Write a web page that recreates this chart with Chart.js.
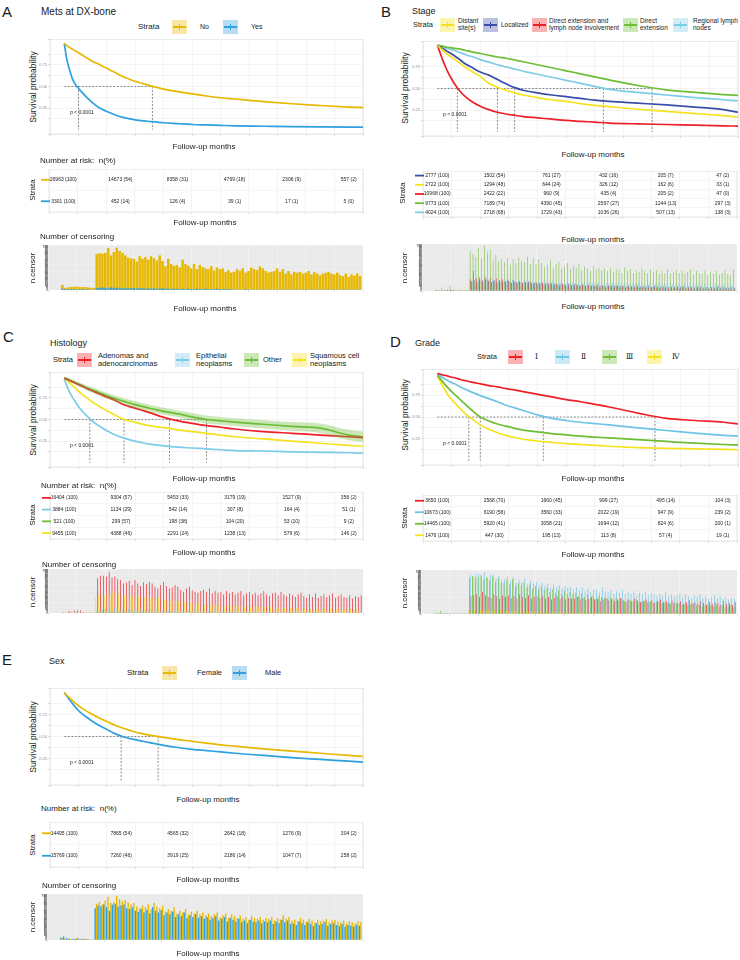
<!DOCTYPE html>
<html>
<head>
<meta charset="utf-8">
<script src="https://cdn.jsdelivr.net/npm/chart.js@4.4.1/dist/chart.umd.min.js"></script>
<style>
  body { margin: 0; background: #fff; }
  #page { position: relative; width: 740px; height: 960px; overflow: hidden;
          font-family: "Liberation Sans", Arial, sans-serif; color: #1a1a1a; }
  .t { position: absolute; white-space: nowrap; line-height: 1.05; }
  .key { position: absolute; width: 15px; height: 14px; }
  .key b { position: absolute; left: 0; top: 0; right: 0; bottom: 0; opacity: .35; }
  .key i { position: absolute; left: 1px; right: 1px; top: 6px; height: 2px; }
  .key u { position: absolute; left: 7px; top: 4px; width: 1px; height: 6px; }
  canvas { position: absolute; }
</style>
</head>
<body>
<div id="page"></div>
<script>
// ---------- shared axes ----------
const survMonths = [0, 1, 2, 3, 4, 5, 6, 8, 10, 12, 15, 18, 21, 24, 27, 30, 35, 40, 45, 50, 55, 60, 70, 80, 90, 100, 105];
const riskMonths = [0, 20, 40, 60, 80, 100];
const censorMonths = Array.from({ length: 105 }, (_, i) => i);
const pText = 'p < 0.0001';

// ---------- A: Mets at DX-bone ----------
const metsStrata = ['No', 'Yes'];
const metsColors = ['#E7B800', '#2E9FDF'];
const metsSurvNo = [1.0, 0.97, 0.95, 0.93, 0.91, 0.89, 0.87, 0.83, 0.79, 0.76, 0.71, 0.66, 0.61, 0.57, 0.54, 0.51, 0.47, 0.44, 0.415, 0.39, 0.37, 0.355, 0.325, 0.30, 0.28, 0.262, 0.255];
const metsSurvYes = [1.0, 0.80, 0.68, 0.58, 0.52, 0.48, 0.44, 0.37, 0.31, 0.26, 0.21, 0.17, 0.14, 0.12, 0.105, 0.095, 0.08, 0.07, 0.06, 0.055, 0.05, 0.045, 0.04, 0.035, 0.032, 0.03, 0.03];
const metsMedians = [31, 5];
const metsRiskNo = ['26963 (100)', '14673 (54)', '8358 (31)', '4769 (18)', '2306 (9)', '557 (2)'];
const metsRiskYes = ['3301 (100)', '452 (14)', '126 (4)', '39 (1)', '17 (1)', '5 (0)'];
const metsCensorNo = [12, 5, 6, 7, 8, 8, 7, 7, 7, 6, 5, 5,
  83, 85, 84, 86, 97, 80, 88, 98, 90, 86, 80, 75,
  73, 72, 66, 78, 72, 76, 70, 78, 74, 68, 80, 67,
  55, 72, 60, 56, 58, 52, 70, 60, 56, 50, 60, 48,
  58, 53, 50, 48, 55, 45, 52, 48, 50, 42, 46, 40,
  42, 48, 45, 50, 40, 44, 52, 48, 46, 54, 50, 44,
  40, 42, 44, 50, 42, 48, 38, 44, 36, 42, 40, 42,
  38, 40, 44, 36, 42, 38, 34, 38, 40, 42, 38, 36,
  40, 34, 32, 38, 30, 36, 33, 38, 32];
const metsCensorYes = [3, 2, 2, 2, 2, 1, 2, 2, 1, 2, 1, 1,
  4, 5, 6, 5, 4, 6, 5, 5, 4, 5, 4, 4,
  4, 5, 3, 4, 4, 3, 4, 3, 4, 3, 3, 4,
  3, 3, 2, 3, 3, 2, 3, 2, 3, 2, 2, 3,
  2, 2, 3, 2, 2, 2, 3, 2, 2, 2, 2, 2,
  1, 1, 1, 1, 2, 1, 1, 1, 1, 1, 1, 1,
  1, 1, 1, 1, 1, 1, 1, 1, 1, 1, 1, 1,
  1, 1, 1, 1, 1, 1, 1, 1, 1, 1, 1, 1,
  1, 1, 1, 1, 1, 1, 1, 1, 1];

// ---------- B: Stage ----------
const stageStrata = ['Distant site(s)', 'Localized', 'Direct extension and lymph node involvement', 'Direct extension', 'Regional lymph nodes'];
const stageColors = ['#F4E31E', '#3A4EA8', '#EE2027', '#6DBE35', '#7DCCE6'];
const stageSurvDistant = [1.0, 0.97, 0.94, 0.91, 0.885, 0.86, 0.84, 0.79, 0.74, 0.70, 0.64, 0.56, 0.515, 0.48, 0.45, 0.425, 0.395, 0.37, 0.35, 0.325, 0.305, 0.29, 0.26, 0.235, 0.21, 0.185, 0.17];
const stageSurvLocal = [1.0, 0.98, 0.96, 0.94, 0.92, 0.90, 0.88, 0.83, 0.78, 0.745, 0.69, 0.655, 0.605, 0.555, 0.51, 0.48, 0.45, 0.425, 0.405, 0.385, 0.365, 0.35, 0.33, 0.31, 0.285, 0.255, 0.225];
const stageSurvDeLn = [1.0, 0.91, 0.82, 0.74, 0.67, 0.61, 0.555, 0.465, 0.40, 0.35, 0.295, 0.255, 0.225, 0.205, 0.19, 0.175, 0.16, 0.145, 0.13, 0.12, 0.11, 0.10, 0.09, 0.083, 0.075, 0.068, 0.065];
const stageSurvDe = [1.0, 0.995, 0.99, 0.98, 0.975, 0.97, 0.965, 0.955, 0.94, 0.925, 0.905, 0.885, 0.865, 0.85, 0.83, 0.81, 0.775, 0.74, 0.705, 0.67, 0.635, 0.60, 0.535, 0.485, 0.455, 0.43, 0.42];
const stageSurvRegional = [1.0, 0.99, 0.98, 0.97, 0.96, 0.95, 0.94, 0.915, 0.89, 0.87, 0.835, 0.805, 0.775, 0.75, 0.725, 0.70, 0.665, 0.63, 0.595, 0.56, 0.525, 0.49, 0.455, 0.425, 0.395, 0.37, 0.355];
const stageMedians = [7, 21, 27, 58, 75];
// table rows as printed: Localized, Distant, DE+LN, DE, Regional
const stageRiskColors = ['#3A4EA8', '#F4E31E', '#EE2027', '#6DBE35', '#7DCCE6'];
const stageRiskLocal = ['2777 (100)', '1502 (54)', '761 (27)', '432 (16)', '205 (7)', '47 (2)'];
const stageRiskDistant = ['2722 (100)', '1294 (48)', '644 (24)', '326 (12)', '162 (6)', '33 (1)'];
const stageRiskDeLn = ['10968 (100)', '2422 (22)', '960 (9)', '435 (4)', '205 (2)', '47 (0)'];
const stageRiskDe = ['9773 (100)', '7189 (74)', '4390 (45)', '2597 (27)', '1244 (13)', '297 (3)'];
const stageRiskRegional = ['4024 (100)', '2718 (68)', '1729 (43)', '1036 (26)', '507 (13)', '138 (3)'];
const stageCensorDe = [3, 2, 8, 2, 4, 12, 4, 3, 3, 2, 2, 2,
  88, 82, 75, 95, 72, 100, 85, 90, 68, 80, 66, 70,
  64, 72, 58, 70, 62, 74, 66, 64, 76, 60, 72, 58,
  70, 62, 54, 58, 68, 52, 60, 64, 50, 56, 62, 48,
  56, 52, 60, 46, 54, 50, 44, 56, 48, 52, 46, 50,
  44, 50, 42, 48, 46, 40, 52, 44, 48, 40, 46, 42,
  50, 44, 40, 48, 42, 46, 38, 44, 40, 48, 38, 42,
  46, 40, 44, 38, 42, 48, 36, 44, 40, 38, 46, 36,
  42, 38, 44, 36, 40, 46, 38, 34, 48];
const stageCensorRegional = [1, 1, 2, 1, 2, 3, 1, 1, 1, 1, 1, 1,
  24, 22, 26, 25, 28, 24, 27, 23, 26, 24, 22, 25,
  23, 26, 22, 25, 21, 24, 22, 23, 20, 24, 21, 22,
  22, 20, 23, 19, 21, 22, 18, 20, 21, 19, 20, 18,
  20, 19, 18, 21, 17, 19, 20, 18, 17, 19, 18, 17,
  18, 17, 19, 16, 18, 17, 16, 18, 15, 17, 16, 18,
  17, 15, 16, 18, 15, 16, 17, 15, 16, 14, 17, 15,
  16, 15, 14, 16, 15, 17, 14, 15, 16, 14, 15, 13,
  15, 14, 16, 13, 15, 14, 13, 15, 14];
const stageCensorLocal = [1, 1, 1, 1, 1, 2, 1, 1, 1, 1, 1, 1,
  22, 25, 20, 24, 21, 26, 22, 20, 24, 19, 22, 21,
  20, 22, 18, 21, 19, 20, 17, 19, 21, 17, 18, 16,
  18, 16, 17, 15, 17, 16, 14, 16, 15, 14, 16, 13,
  15, 14, 13, 15, 12, 14, 13, 12, 14, 12, 13, 11,
  13, 12, 11, 13, 11, 12, 10, 12, 11, 10, 12, 10,
  11, 10, 12, 9, 11, 10, 9, 11, 10, 9, 10, 9,
  10, 9, 11, 8, 10, 9, 8, 10, 9, 8, 9, 8,
  9, 8, 10, 8, 9, 7, 8, 9, 7];
const stageCensorDeLn = [2, 1, 2, 3, 2, 2, 2, 1, 2, 1, 1, 1,
  26, 44, 28, 30, 24, 32, 26, 30, 22, 28, 24, 26,
  22, 25, 20, 24, 19, 22, 18, 21, 17, 20, 16, 19,
  16, 18, 14, 17, 15, 13, 16, 12, 15, 13, 11, 14,
  12, 13, 11, 12, 10, 12, 9, 11, 10, 9, 11, 8,
  10, 9, 8, 10, 8, 9, 7, 9, 8, 7, 8, 7,
  8, 7, 6, 8, 7, 6, 7, 6, 7, 5, 6, 6,
  6, 5, 7, 5, 6, 5, 4, 6, 5, 4, 5, 4,
  5, 4, 5, 4, 3, 5, 4, 3, 4];
const stageCensorDistant = [1, 1, 1, 2, 1, 1, 1, 1, 1, 1, 1, 1,
  16, 18, 15, 20, 14, 17, 19, 15, 16, 14, 17, 13,
  15, 13, 16, 12, 14, 13, 11, 14, 12, 13, 10, 12,
  11, 12, 10, 11, 9, 10, 11, 9, 10, 8, 9, 10,
  9, 8, 10, 8, 9, 7, 8, 9, 7, 8, 7, 8,
  7, 8, 6, 7, 8, 6, 7, 6, 7, 5, 6, 7,
  6, 5, 6, 7, 5, 6, 5, 6, 4, 5, 6, 5,
  5, 4, 5, 6, 4, 5, 4, 5, 4, 3, 5, 4,
  4, 5, 3, 4, 4, 3, 4, 3, 4];

// ---------- C: Histology ----------
const histStrata = ['Adenomas and adenocarcinomas', 'Epithelial neoplasms', 'Other', 'Squamous cell neoplasms'];
const histColors = ['#EE2027', '#7DCCE6', '#6DBE35', '#F4E31E'];
const histSurvAdeno = [0.98, 0.965, 0.95, 0.935, 0.92, 0.905, 0.89, 0.86, 0.83, 0.80, 0.76, 0.72, 0.67, 0.64, 0.61, 0.58, 0.525, 0.485, 0.455, 0.43, 0.41, 0.39, 0.36, 0.34, 0.32, 0.30, 0.29];
const histSurvEpith = [0.97, 0.88, 0.81, 0.75, 0.70, 0.65, 0.61, 0.54, 0.48, 0.43, 0.37, 0.32, 0.285, 0.255, 0.235, 0.215, 0.195, 0.18, 0.17, 0.16, 0.15, 0.14, 0.135, 0.125, 0.12, 0.115, 0.11];
const histSurvOther = [0.98, 0.97, 0.955, 0.94, 0.925, 0.91, 0.895, 0.865, 0.84, 0.815, 0.775, 0.74, 0.71, 0.68, 0.655, 0.63, 0.595, 0.565, 0.53, 0.50, 0.485, 0.47, 0.445, 0.42, 0.40, 0.32, 0.30];
const histOtherUpper = [0.99, 0.985, 0.97, 0.96, 0.945, 0.935, 0.92, 0.895, 0.87, 0.845, 0.81, 0.775, 0.745, 0.72, 0.695, 0.67, 0.635, 0.605, 0.575, 0.545, 0.53, 0.515, 0.495, 0.47, 0.455, 0.38, 0.36];
const histOtherLower = [0.97, 0.955, 0.94, 0.92, 0.905, 0.885, 0.87, 0.835, 0.81, 0.785, 0.74, 0.705, 0.675, 0.64, 0.615, 0.59, 0.555, 0.525, 0.485, 0.455, 0.44, 0.425, 0.395, 0.37, 0.345, 0.26, 0.24];
const histSurvSquam = [0.98, 0.95, 0.92, 0.89, 0.86, 0.83, 0.80, 0.75, 0.70, 0.66, 0.60, 0.55, 0.50, 0.475, 0.45, 0.43, 0.405, 0.38, 0.36, 0.34, 0.32, 0.30, 0.275, 0.25, 0.225, 0.20, 0.19];
const histMedians = [9, 21, 37, 50];
const histRiskAdeno = ['16404 (100)', '9304 (57)', '5453 (33)', '3179 (19)', '1527 (9)', '356 (2)'];
const histRiskEpith = ['3884 (100)', '1134 (29)', '542 (14)', '307 (8)', '164 (4)', '51 (1)'];
const histRiskOther = ['521 (100)', '299 (57)', '198 (38)', '104 (20)', '53 (10)', '9 (2)'];
const histRiskSquam = ['9455 (100)', '4388 (46)', '2291 (24)', '1238 (13)', '579 (6)', '146 (2)'];
const histCensorAdeno = [2, 1, 5, 3, 6, 6, 6, 2, 2, 2, 2, 2,
  82, 88, 88, 86, 96, 84, 86, 80, 78, 70, 72, 76,
  66, 78, 70, 64, 72, 68, 74, 70, 62, 58, 66, 74,
  64, 58, 60, 66, 62, 54, 50, 58, 62, 54, 50, 48,
  52, 55, 50, 58, 46, 52, 48, 50, 44, 52, 46, 50,
  44, 48, 52, 42, 46, 50, 44, 48, 42, 46, 52, 44,
  40, 46, 48, 42, 50, 44, 40, 46, 42, 38, 44, 48,
  40, 36, 44, 38, 46, 36, 40, 44, 38, 42, 46, 36,
  40, 44, 38, 36, 42, 34, 40, 38, 42];
const histCensorEpith = [1, 1, 1, 1, 1, 1, 1, 1, 1, 1, 1, 1,
  8, 10, 9, 11, 8, 10, 9, 8, 9, 7, 8, 9,
  7, 8, 7, 8, 6, 7, 6, 7, 6, 6, 5, 6,
  5, 6, 5, 5, 4, 5, 5, 4, 5, 4, 4, 5,
  4, 4, 3, 4, 4, 3, 4, 3, 3, 4, 3, 3,
  3, 3, 3, 2, 3, 3, 2, 3, 2, 3, 2, 2,
  2, 2, 2, 3, 2, 2, 2, 2, 2, 2, 2, 2,
  2, 2, 1, 2, 2, 1, 2, 1, 2, 1, 2, 1,
  1, 2, 1, 1, 2, 1, 1, 1, 1];
const histCensorOther = [0, 0, 1, 0, 0, 0, 0, 0, 0, 0, 0, 0,
  3, 2, 4, 3, 2, 3, 4, 2, 3, 2, 3, 2,
  2, 3, 2, 2, 3, 2, 2, 1, 2, 2, 1, 2,
  2, 1, 2, 1, 2, 1, 1, 2, 1, 1, 2, 1,
  1, 1, 1, 2, 1, 1, 1, 1, 1, 1, 1, 1,
  1, 1, 1, 1, 1, 1, 1, 1, 1, 1, 1, 1,
  1, 1, 1, 1, 1, 1, 1, 1, 1, 1, 1, 1,
  1, 1, 1, 1, 1, 1, 1, 1, 1, 1, 1, 1,
  1, 1, 1, 1, 1, 1, 1, 1, 1];
const histCensorSquam = [1, 0, 2, 1, 2, 1, 2, 1, 1, 1, 1, 1,
  38, 42, 46, 40, 48, 44, 52, 50, 46, 42, 40, 44,
  38, 42, 36, 40, 34, 38, 36, 34, 38, 32, 36, 30,
  32, 28, 30, 26, 30, 28, 24, 26, 28, 24, 22, 26,
  22, 24, 20, 22, 18, 22, 20, 18, 20, 16, 18, 17,
  16, 18, 15, 17, 14, 16, 15, 13, 16, 14, 13, 15,
  13, 14, 12, 14, 11, 13, 12, 11, 13, 10, 12, 11,
  11, 10, 12, 9, 11, 10, 9, 11, 10, 9, 10, 8,
  9, 10, 8, 9, 8, 10, 8, 9, 7];

// ---------- D: Grade ----------
const gradeStrata = ['Ⅰ', 'Ⅱ', 'Ⅲ', 'Ⅳ'];
const gradeColors = ['#EE2027', '#6EC4E6', '#6DBE35', '#F4E31E'];
const gradeSurvI = [1.0, 0.99, 0.98, 0.975, 0.965, 0.955, 0.95, 0.93, 0.915, 0.90, 0.88, 0.86, 0.845, 0.825, 0.81, 0.79, 0.76, 0.73, 0.70, 0.675, 0.645, 0.615, 0.545, 0.485, 0.46, 0.44, 0.42];
const gradeSurvII = [0.99, 0.97, 0.95, 0.93, 0.91, 0.895, 0.88, 0.845, 0.815, 0.785, 0.745, 0.71, 0.675, 0.635, 0.605, 0.575, 0.525, 0.485, 0.46, 0.44, 0.425, 0.41, 0.375, 0.345, 0.315, 0.29, 0.28];
const gradeSurvIII = [0.98, 0.94, 0.90, 0.86, 0.825, 0.79, 0.76, 0.70, 0.64, 0.58, 0.50, 0.455, 0.42, 0.395, 0.37, 0.35, 0.33, 0.31, 0.295, 0.28, 0.27, 0.26, 0.24, 0.22, 0.20, 0.185, 0.18];
const gradeSurvIV = [0.97, 0.91, 0.85, 0.79, 0.74, 0.70, 0.665, 0.595, 0.53, 0.48, 0.41, 0.36, 0.32, 0.29, 0.265, 0.245, 0.225, 0.21, 0.195, 0.185, 0.175, 0.165, 0.15, 0.14, 0.135, 0.128, 0.125];
const gradeMedians = [11, 15, 37, 76];
const gradeRiskI = ['3650 (100)', '2568 (70)', '1660 (45)', '999 (27)', '495 (14)', '104 (3)'];
const gradeRiskII = ['10673 (100)', '6190 (58)', '3560 (33)', '2022 (19)', '947 (9)', '239 (2)'];
const gradeRiskIII = ['14465 (100)', '5920 (41)', '3058 (21)', '1694 (12)', '824 (6)', '200 (1)'];
const gradeRiskIV = ['1476 (100)', '447 (30)', '195 (13)', '113 (8)', '57 (4)', '19 (1)'];
const gradeCensorI = [1, 1, 1, 1, 1, 1, 1, 1, 1, 1, 1, 1,
  42, 44, 46, 40, 52, 44, 40, 38, 46, 42, 36, 44,
  40, 44, 38, 42, 36, 46, 40, 38, 44, 36, 40, 42,
  38, 42, 36, 40, 34, 38, 42, 36, 40, 34, 38, 36,
  36, 40, 34, 38, 32, 36, 40, 34, 36, 30, 34, 38,
  32, 36, 30, 34, 38, 32, 28, 34, 30, 36, 32, 28,
  30, 34, 28, 32, 26, 30, 34, 28, 30, 26, 32, 28,
  26, 30, 24, 28, 32, 26, 28, 24, 30, 26, 22, 28,
  24, 28, 26, 22, 30, 24, 26, 22, 28];
const gradeCensorII = [2, 3, 2, 3, 1, 2, 1, 1, 1, 1, 1, 1,
  92, 88, 94, 96, 90, 98, 86, 92, 94, 84, 90, 80,
  82, 88, 78, 86, 74, 80, 76, 84, 70, 78, 72, 76,
  68, 74, 66, 72, 62, 70, 64, 68, 60, 66, 62, 64,
  58, 64, 56, 62, 54, 60, 52, 58, 56, 50, 62, 54,
  52, 56, 48, 54, 50, 58, 46, 52, 48, 54, 44, 50,
  48, 52, 44, 50, 46, 42, 48, 44, 52, 42, 46, 40,
  44, 48, 40, 46, 42, 38, 44, 40, 46, 38, 42, 36,
  40, 44, 38, 42, 36, 40, 34, 38, 36];
const gradeCensorIII = [3, 1, 8, 2, 2, 1, 1, 1, 1, 1, 1, 1,
  84, 90, 86, 88, 92, 82, 86, 80, 88, 76, 84, 72,
  74, 80, 70, 82, 66, 72, 68, 74, 62, 70, 60, 66,
  58, 64, 56, 62, 52, 58, 50, 56, 48, 54, 46, 52,
  46, 50, 42, 48, 40, 46, 38, 44, 36, 42, 40, 38,
  36, 40, 34, 38, 32, 36, 30, 34, 32, 30, 34, 28,
  30, 32, 28, 30, 26, 28, 30, 24, 28, 26, 24, 26,
  24, 26, 22, 24, 20, 22, 24, 20, 22, 18, 20, 22,
  20, 18, 22, 18, 20, 16, 18, 20, 16];
const gradeCensorIV = [0, 1, 0, 1, 0, 0, 0, 0, 0, 0, 0, 0,
  10, 12, 9, 11, 8, 10, 9, 11, 8, 9, 7, 8,
  7, 8, 6, 7, 6, 8, 6, 5, 7, 5, 6, 5,
  5, 6, 4, 5, 4, 5, 4, 4, 5, 3, 4, 4,
  3, 4, 3, 4, 3, 3, 4, 3, 3, 2, 3, 3,
  3, 2, 3, 2, 3, 2, 2, 3, 2, 2, 3, 2,
  2, 3, 2, 2, 2, 3, 2, 2, 2, 2, 2, 2,
  2, 2, 2, 2, 2, 2, 2, 2, 2, 2, 2, 2,
  2, 2, 2, 2, 2, 2, 2, 2, 2];

// ---------- E: Sex ----------
const sexStrata = ['Female', 'Male'];
const sexColors = ['#E7B800', '#2E9FDF'];
const sexSurvFemale = [1.0, 0.965, 0.935, 0.905, 0.875, 0.85, 0.825, 0.785, 0.75, 0.715, 0.67, 0.625, 0.59, 0.56, 0.535, 0.515, 0.49, 0.465, 0.445, 0.425, 0.405, 0.39, 0.36, 0.335, 0.31, 0.285, 0.275];
const sexSurvMale = [1.0, 0.955, 0.91, 0.87, 0.83, 0.795, 0.765, 0.715, 0.67, 0.63, 0.58, 0.53, 0.495, 0.47, 0.45, 0.43, 0.40, 0.375, 0.355, 0.34, 0.325, 0.31, 0.285, 0.26, 0.24, 0.22, 0.21];
const sexMedians = [20, 33];
const sexRiskFemale = ['14495 (100)', '7865 (54)', '4565 (32)', '2642 (18)', '1276 (9)', '304 (2)'];
const sexRiskMale = ['15769 (100)', '7260 (46)', '3919 (25)', '2186 (14)', '1047 (7)', '258 (2)'];
const sexCensorFemale = [5, 3, 4, 2, 3, 4, 2, 3, 2, 2, 1, 1,
  82, 86, 80, 90, 98, 84, 86, 100, 92, 88, 90, 86,
  80, 84, 76, 72, 78, 74, 80, 70, 84, 76, 72, 78,
  64, 70, 66, 74, 60, 66, 62, 70, 58, 64, 60, 66,
  58, 62, 56, 60, 54, 58, 62, 52, 56, 60, 50, 58,
  54, 50, 56, 48, 52, 46, 54, 50, 48, 52, 46, 50,
  48, 52, 44, 50, 46, 56, 48, 52, 44, 46, 42, 50,
  46, 42, 48, 44, 40, 46, 42, 44, 48, 40, 44, 46,
  42, 40, 44, 38, 42, 40, 38, 42, 40];
const sexCensorMale = [5, 8, 4, 3, 2, 3, 4, 2, 3, 2, 1, 1,
  72, 78, 76, 80, 74, 66, 80, 82, 76, 78, 80, 72,
  70, 74, 66, 64, 70, 62, 68, 60, 74, 66, 62, 68,
  56, 62, 58, 64, 52, 58, 54, 62, 50, 56, 52, 58,
  50, 54, 48, 52, 46, 50, 54, 44, 48, 52, 42, 50,
  46, 42, 48, 40, 44, 38, 46, 42, 40, 44, 38, 42,
  40, 44, 36, 42, 38, 46, 40, 44, 36, 38, 34, 42,
  38, 34, 40, 36, 32, 38, 34, 36, 40, 32, 36, 38,
  34, 32, 36, 30, 34, 32, 30, 34, 32];

// ---------- page helpers ----------
const page = document.getElementById('page');
const FONT = '"Liberation Sans", Arial, sans-serif';

function label(html, x, y, size, mode, font) {
  const d = document.createElement('div');
  d.className = 't';
  d.innerHTML = html;
  d.style.left = x + 'px';
  d.style.top = y + 'px';
  d.style.fontSize = size + 'px';
  if (font) d.style.fontFamily = font;
  d.style.transform = mode === 'c' ? 'translate(-50%,-50%)'
    : mode === 'r' ? 'translate(-50%,-50%) rotate(-90deg)' : 'translateY(-50%)';
  page.appendChild(d);
}

function legendKey(x, y, color) {
  const k = document.createElement('div');
  k.className = 'key';
  k.style.left = x + 'px';
  k.style.top = (y - 7) + 'px';
  k.innerHTML = `<b style="background:${color}"></b><i style="background:${color}"></i><u style="background:${color}"></u>`;
  page.appendChild(k);
}

function makeCanvas(left, top, width, height) {
  const cv = document.createElement('canvas');
  cv.width = width; cv.height = height;
  cv.style.left = left + 'px'; cv.style.top = top + 'px';
  page.appendChild(cv);
  return cv;
}

const pts = (xs, ys) => ys.map((v, i) => ({ x: xs[i], y: v }));

function monthAxis(h) {
  return {
    type: 'linear', min: -5, max: 105, offset: false,
    ticks: { stepSize: 10, autoSkip: false, maxRotation: 0, padding: 1, color: '#8a8a8a',
      font: { size: 4, family: FONT }, callback: v => (v >= 0 && v % 20 === 0 ? v : '') },
    grid: { color: '#ececec', lineWidth: 0.6, tickLength: 2, tickColor: '#bbb', offset: false },
    border: { display: false },
    afterFit(s) { s.height = h; s.paddingLeft = 0; s.paddingRight = 0; },
  };
}

// ---------- plugins ----------
const survMarks = {
  id: 'survMarks',
  beforeDatasetsDraw(chart, args, o) {
    const { ctx, chartArea: a, scales: { x, y } } = chart;
    ctx.save();
    ctx.strokeStyle = '#dedede'; ctx.lineWidth = 0.8;
    ctx.strokeRect(a.left, a.top, a.width, a.height);
    const y5 = y.getPixelForValue(0.5), y0 = y.getPixelForValue(0);
    ctx.setLineDash([2, 1.5]); ctx.strokeStyle = '#444'; ctx.lineWidth = 0.6;
    ctx.beginPath();
    ctx.moveTo(x.getPixelForValue(0), y5);
    ctx.lineTo(x.getPixelForValue(Math.max(...o.medians)), y5);
    o.medians.forEach(m => { const px = x.getPixelForValue(m); ctx.moveTo(px, y5); ctx.lineTo(px, y0); });
    ctx.stroke();
    ctx.setLineDash([]);
    ctx.fillStyle = '#222'; ctx.font = '5px ' + FONT; ctx.textBaseline = 'middle';
    ctx.fillText(o.p, x.getPixelForValue(2), y.getPixelForValue(0.2));
    ctx.restore();
  },
};

const riskText = {
  id: 'riskText',
  afterDatasetsDraw(chart, args, o) {
    const { ctx, chartArea: a } = chart;
    ctx.save();
    ctx.strokeStyle = '#e2e2e2'; ctx.lineWidth = 0.8;
    ctx.strokeRect(a.left, a.top, a.width, a.height);
    ctx.font = '5px ' + FONT; ctx.textAlign = 'center'; ctx.textBaseline = 'middle';
    chart.data.datasets.forEach((ds, i) => {
      const meta = chart.getDatasetMeta(i);
      ctx.fillStyle = o.colors[i];
      ctx.fillRect(a.left - 8, meta.data[0].y - 0.9, 9, 1.8);
      ctx.fillStyle = '#222';
      meta.data.forEach((el, j) => ctx.fillText(o.labels[i][j], el.x, el.y));
    });
    ctx.restore();
  },
};

const censorBg = {
  id: 'censorBg',
  beforeDraw(chart) {
    const { ctx, chartArea: a } = chart;
    ctx.save();
    ctx.fillStyle = '#e4e4e4';
    ctx.fillRect(a.left, a.top, a.width, a.height);
    ctx.restore();
  },
};

// ---------- chart builders ----------
function survChart(box, curves, medians, band) {
  const [L, T, R, B] = box;
  const cv = makeCanvas(L - 16, T, R - L + 18, B - T + 9);
  const datasets = [];
  if (band) {
    datasets.push({ data: pts(survMonths, band.upper), borderWidth: 0, pointRadius: 0, fill: '+1',
      backgroundColor: band.fill, cubicInterpolationMode: 'monotone' });
    datasets.push({ data: pts(survMonths, band.lower), borderWidth: 0, pointRadius: 0, fill: false,
      cubicInterpolationMode: 'monotone' });
  }
  curves.forEach(c => datasets.push({ data: pts(survMonths, c.values), borderColor: c.color,
    borderWidth: 1.7, pointRadius: 0, fill: false, cubicInterpolationMode: 'monotone' }));
  new Chart(cv, {
    type: 'line',
    data: { datasets },
    plugins: [survMarks],
    options: {
      responsive: false, animation: false,
      layout: { padding: { top: 0, right: 2, bottom: 0, left: 0 } },
      plugins: { legend: { display: false }, tooltip: { enabled: false }, survMarks: { medians, p: pText } },
      scales: {
        x: monthAxis(9),
        y: {
          min: -0.05, max: 1.05,
          ticks: { stepSize: 0.125, autoSkip: false, padding: 1, color: '#8a8a8a', font: { size: 4, family: FONT },
            callback: v => (v >= 0 && v <= 1 && Math.abs(v * 4 - Math.round(v * 4)) < 1e-6 ? v.toFixed(2) : '') },
          grid: { color: '#ececec', lineWidth: 0.6, tickLength: 2, tickColor: '#bbb' },
          border: { display: false },
          afterFit(s) { s.width = 16; s.paddingTop = 0; s.paddingBottom = 0; },
        },
      },
    },
  });
}

function riskChart(box, labels, colors) {
  const [L, T, R, B] = box;
  const cv = makeCanvas(L - 10, T, R - L + 12, B - T + 8);
  const datasets = labels.map((row, i) => ({ data: riskMonths.map(m => ({ x: m, y: i })), pointRadius: 0 }));
  new Chart(cv, {
    type: 'scatter',
    data: { datasets },
    plugins: [riskText],
    options: {
      responsive: false, animation: false,
      layout: { padding: { top: 0, right: 2, bottom: 0, left: 0 } },
      plugins: { legend: { display: false }, tooltip: { enabled: false }, riskText: { labels, colors } },
      scales: {
        x: monthAxis(8),
        y: {
          type: 'linear', reverse: true, min: -0.5, max: labels.length - 0.5,
          ticks: { stepSize: 1, display: false },
          grid: { color: '#f0f0f0', lineWidth: 0.6, drawTicks: false },
          border: { display: false },
          afterFit(s) { s.width = 10; s.paddingTop = 0; s.paddingBottom = 0; },
        },
      },
    },
  });
}

// overlap = true: bars share the full month width, later strata drawn on top
function censorChart(box, series, colors, overlap) {
  const [L, T, R, B] = box;
  const cv = makeCanvas(L - 6, T, R - L + 8, B - T + 8);
  const datasets = series.map((vals, i) => ({
    data: pts(censorMonths, vals), backgroundColor: colors[i],
    barPercentage: 1, categoryPercentage: overlap ? 0.88 : 0.96,
    grouped: !overlap, order: series.length - i,
  }));
  new Chart(cv, {
    type: 'bar',
    data: { datasets },
    plugins: [censorBg],
    options: {
      responsive: false, animation: false,
      layout: { padding: { top: 0, right: 2, bottom: 0, left: 0 } },
      plugins: { legend: { display: false }, tooltip: { enabled: false } },
      scales: {
        x: Object.assign(monthAxis(8), { grid: { color: 'rgba(255,255,255,0.7)', lineWidth: 0.5, tickLength: 2, tickColor: '#bbb', offset: false } }),
        y: {
          min: 0, max: 104,
          ticks: { stepSize: 2, autoSkip: false, padding: 0, color: '#666', font: { size: 3, family: FONT } },
          grid: { color: 'rgba(255,255,255,0.55)', lineWidth: 0.4, drawTicks: false },
          border: { display: false },
          afterFit(s) { s.width = 6; s.paddingTop = 0; s.paddingBottom = 0; },
        },
      },
    },
  });
}

// ================= Panel A =================
label('A', 2, 12, 15);
label('Mets at DX-bone', 41, 12, 10);
label('Strata', 138, 27, 8);
legendKey(172, 27, metsColors[0]); label(metsStrata[0], 200, 27, 7);
legendKey(223, 27, metsColors[1]); label(metsStrata[1], 251, 27, 7);
label('Survival probability', 33, 87, 8.5, 'r');
survChart([50, 39, 363, 134],
  [{ values: metsSurvNo, color: metsColors[0] }, { values: metsSurvYes, color: metsColors[1] }], metsMedians);
label('Follow-up months', 204, 147, 8, 'c');
label('Number at risk:&nbsp; n(%)', 40, 161, 8);
label('Strata', 33, 190, 8, 'r');
riskChart([49, 169, 363, 212], [metsRiskNo, metsRiskYes], metsColors);
label('Follow-up months', 205, 223, 8, 'c');
label('Number of censoring', 40, 237, 8);
label('n.censor', 33, 268, 8, 'r');
censorChart([48, 245, 363, 290], [metsCensorNo, metsCensorYes], metsColors, true);
label('Follow-up months', 205, 309, 8, 'c');

// ================= Panel B =================
label('B', 381, 12, 15);
label('Stage', 412, 12, 9);
label('Strata', 413, 25, 7.5);
legendKey(440, 25, stageColors[0]); label('Distant<br>site(s)', 458, 25, 6.5);
legendKey(483, 25, stageColors[1]); label('Localized', 501, 25, 6.5);
legendKey(532, 25, stageColors[2]); label('Direct extension and<br>lymph node involvement', 549, 25, 6.5);
legendKey(623, 25, stageColors[3]); label('Direct<br>extension', 640, 25, 6.5);
legendKey(673, 25, stageColors[4]); label('Regional lymph<br>nodes', 693, 25, 6.5);
label('Survival probability', 405, 88, 8.5, 'r');
survChart([423, 41, 738, 136], [
  { values: stageSurvDistant, color: stageColors[0] },
  { values: stageSurvLocal, color: stageColors[1] },
  { values: stageSurvDeLn, color: stageColors[2] },
  { values: stageSurvDe, color: stageColors[3] },
  { values: stageSurvRegional, color: stageColors[4] },
], stageMedians);
label('Follow-up months', 593, 155, 8, 'c');
label('Strata', 403, 193, 8, 'r');
riskChart([423, 171, 737, 217],
  [stageRiskLocal, stageRiskDistant, stageRiskDeLn, stageRiskDe, stageRiskRegional], stageRiskColors);
label('Follow-up months', 593, 240, 8, 'c');
label('n.censor', 405, 268, 8, 'r');
censorChart([422, 244, 737, 291],
  [stageCensorDistant, stageCensorLocal, stageCensorDeLn, stageCensorDe, stageCensorRegional], stageColors);
label('Follow-up months', 593, 307, 8, 'c');

// ================= Panel C =================
label('C', 3, 337, 15);
label('Histology', 50, 344, 9);
label('Strata', 53, 360, 7.5);
legendKey(77, 360, histColors[0]); label('Adenomas and<br>adenocarcinomas', 98, 360, 7.5);
legendKey(175, 360, histColors[1]); label('Epithelial<br>neoplasms', 196, 360, 7.5);
legendKey(244, 360, histColors[2]); label('Other', 263, 360, 7.5);
legendKey(292, 360, histColors[3]); label('Squamous cell<br>neoplasms', 310, 360, 7.5);
label('Survival probability', 33, 420, 8.5, 'r');
survChart([50, 372, 363, 467], [
  { values: histSurvAdeno, color: histColors[0] },
  { values: histSurvEpith, color: histColors[1] },
  { values: histSurvOther, color: histColors[2] },
  { values: histSurvSquam, color: histColors[3] },
], histMedians, { upper: histOtherUpper, lower: histOtherLower, fill: 'rgba(109,190,53,0.35)' });
label('Follow-up months', 204, 479, 8, 'c');
label('Number at risk:&nbsp; n(%)', 41, 486, 8);
label('Strata', 33, 515, 8, 'r');
riskChart([50, 492, 363, 539], [histRiskAdeno, histRiskEpith, histRiskOther, histRiskSquam], histColors);
label('Follow-up months', 204, 553, 8, 'c');
label('Number of censoring', 42, 565, 8);
label('n.censor', 33, 592, 8, 'r');
censorChart([48, 569, 363, 613], [histCensorAdeno, histCensorEpith, histCensorOther, histCensorSquam], histColors);

// ================= Panel D =================
label('D', 390, 342, 15);
label('Grade', 415, 344, 9);
label('Strata', 477, 357, 7.5);
const roman = '"DejaVu Serif", "Liberation Serif", serif';
legendKey(508, 357, gradeColors[0]); label(gradeStrata[0], 535, 357, 7.5, null, roman);
legendKey(555, 357, gradeColors[1]); label(gradeStrata[1], 581, 357, 7.5, null, roman);
legendKey(602, 357, gradeColors[2]); label(gradeStrata[2], 626, 357, 7.5, null, roman);
legendKey(647, 357, gradeColors[3]); label(gradeStrata[3], 672, 357, 7.5, null, roman);
label('Survival probability', 405, 415, 8.5, 'r');
survChart([423, 369, 738, 465], [
  { values: gradeSurvI, color: gradeColors[0] },
  { values: gradeSurvII, color: gradeColors[1] },
  { values: gradeSurvIII, color: gradeColors[2] },
  { values: gradeSurvIV, color: gradeColors[3] },
], gradeMedians);
label('Follow-up months', 593, 479, 8, 'c');
label('Strata', 405, 518, 8, 'r');
riskChart([423, 495, 737, 541], [gradeRiskI, gradeRiskII, gradeRiskIII, gradeRiskIV], gradeColors);
label('Follow-up months', 593, 555, 8, 'c');
label('n.censor', 405, 593, 8, 'r');
censorChart([421, 570, 737, 614], [gradeCensorI, gradeCensorII, gradeCensorIII, gradeCensorIV], gradeColors);

// ================= Panel E =================
label('E', 2, 660, 15);
label('Sex', 49, 662, 9);
label('Strata', 127, 673, 8);
legendKey(162, 673, sexColors[0]); label(sexStrata[0], 197, 673, 7.5);
legendKey(232, 673, sexColors[1]); label(sexStrata[1], 265, 673, 7.5);
label('Survival probability', 33, 737, 8.5, 'r');
survChart([50, 688, 363, 785],
  [{ values: sexSurvFemale, color: sexColors[0] }, { values: sexSurvMale, color: sexColors[1] }], sexMedians);
label('Follow-up months', 208, 800, 8, 'c');
label('Number at risk:&nbsp; n(%)', 41, 809, 8);
label('Strata', 33, 845, 8, 'r');
riskChart([50, 822, 363, 867], [sexRiskFemale, sexRiskMale], sexColors);
label('Follow-up months', 208, 880, 8, 'c');
label('Number of censoring', 42, 886, 8);
label('n.censor', 33, 917, 8, 'r');
censorChart([47, 894, 363, 940], [sexCensorFemale, sexCensorMale], sexColors);
label('Follow-up months', 208, 954, 8, 'c');
</script>
</body>
</html>
